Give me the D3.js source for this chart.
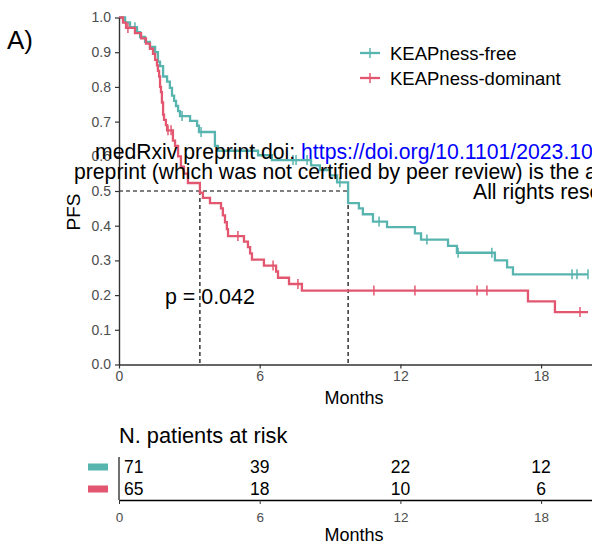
<!DOCTYPE html>
<html><head><meta charset="utf-8">
<script src="https://cdn.jsdelivr.net/npm/d3@7"></script>
<style>body{margin:0;background:#fff;overflow:hidden}svg{display:block;font-family:"Liberation Sans",Arial,sans-serif}</style>
</head><body><svg id="c" width="592" height="550"></svg>
<script>
const groups = ["KEAPness-free", "KEAPness-dominant"];
const colors = ["#58B4AE", "#E2576F"];
const freeTimes = [0.26,0.47,0.77,0.9,1.11,1.32,1.54,1.66,1.75,1.88,2.05,2.17,2.26,2.35,2.43,2.52,2.6,3.03,3.33,3.41,4.09,4.22,5.93,6.52,8.19,8.57,9.0,9.3,9.77,10.23,10.4,10.83,11.43,12.62,12.88,14.03,14.41,16.03,16.55,16.8];
const freeSurv  = [0.986,0.972,0.958,0.944,0.93,0.915,0.9,0.873,0.86,0.83,0.815,0.797,0.775,0.76,0.745,0.73,0.716,0.702,0.688,0.67,0.63,0.616,0.603,0.589,0.574,0.56,0.545,0.525,0.465,0.45,0.433,0.412,0.396,0.378,0.36,0.342,0.322,0.30,0.28,0.26];
const freeCensor = [0.68,2.69,3.5,7.42,7.55,8.02,9.42,11.09,13.13,14.46,15.9,19.32,19.53,20.0];
const domTimes = [0.17,0.3,0.68,0.94,1.15,1.32,1.45,1.54,1.62,1.66,1.71,1.75,1.79,1.83,1.88,1.92,2.0,2.05,2.3,2.39,2.52,2.64,2.77,2.94,3.45,3.58,3.88,4.35,4.43,4.52,4.6,4.65,5.33,5.5,5.59,5.67,6.18,6.7,6.78,7.25,7.8,17.44,18.59];
const domSurv  = [0.985,0.97,0.955,0.94,0.925,0.91,0.895,0.878,0.862,0.846,0.83,0.8,0.785,0.755,0.72,0.705,0.69,0.675,0.645,0.63,0.6,0.57,0.55,0.523,0.495,0.48,0.465,0.45,0.43,0.41,0.39,0.37,0.354,0.338,0.32,0.302,0.285,0.268,0.25,0.232,0.213,0.182,0.151];
const domCensor = [0.38,2.09,2.22,5.07,6.57,7.63,10.87,12.62,15.27,15.69,19.66];
const endTime = 20;
const xTicks = [0, 6, 12, 18];
const yTicks = [0,0.1,0.2,0.3,0.4,0.5,0.6,0.7,0.8,0.9,1.0];
const riskTimes = [0, 6, 12, 18];
const riskFree = [71, 39, 22, 12];
const riskDom = [65, 18, 10, 6];
const pText = "p = 0.042";
const wm1a = "medRxiv preprint doi: ";
const wm1b = "https://doi.org/10.1101/2023.10.2";
const wm2 = "preprint (which was not certified by peer review) is the author/funder";
const wm3 = "All rights reserved.";

const svg = d3.select("#c");
const x = d3.scaleLinear().domain([0, 20.2]).range([119, 119 + 20.2 * 23.45]);
const y = d3.scaleLinear().domain([0, 1]).range([364.5, 17.5]);
const axisCol = "#333", tickCol = "#4d4d4d";

const series = [
  {times: freeTimes, surv: freeSurv, censor: freeCensor},
  {times: domTimes, surv: domSurv, censor: domCensor}
];
function survAt(s, t) { let v = 1; s.times.forEach((tt, i) => { if (tt <= t) v = s.surv[i]; }); return v; }
function median(s) { for (let i = 0; i < s.times.length; i++) if (s.surv[i] <= 0.5) return s.times[i]; return null; }

// dashed median lines
const meds = series.map(median);
const dash = svg.append("g").attr("stroke", "#000").attr("stroke-width", 1.2).attr("stroke-dasharray", "4,3").attr("fill", "none");
dash.append("line").attr("x1", x(0)).attr("x2", x(d3.max(meds))).attr("y1", y(0.5)).attr("y2", y(0.5));
meds.forEach(m => dash.append("line").attr("x1", x(m)).attr("x2", x(m)).attr("y1", y(0.5)).attr("y2", y(0)));

// curves
const line = d3.line().x(d => x(d[0])).y(d => y(d[1])).curve(d3.curveStepAfter);
series.forEach((s, i) => {
  const pts = [[0, 1]].concat(s.times.map((t, j) => [t, s.surv[j]]));
  pts.push([endTime, s.surv[s.surv.length - 1]]);
  svg.append("path").attr("d", line(pts)).attr("fill", "none").attr("stroke", colors[i]).attr("stroke-width", 2.3);
  svg.append("g").selectAll("line").data(s.censor).join("line")
    .attr("x1", d => x(d)).attr("x2", d => x(d))
    .attr("y1", d => y(survAt(s, d)) - 5).attr("y2", d => y(survAt(s, d)) + 5)
    .attr("stroke", colors[i]).attr("stroke-width", 1.5);
});

// axes
const yAx = svg.append("g").attr("transform", `translate(${x(0)},0)`)
  .call(d3.axisLeft(y).tickValues(yTicks).tickFormat(d3.format(".1f")).tickSize(4).tickSizeOuter(0).tickPadding(4));
const xAx = svg.append("g").attr("transform", `translate(0,${y(0)})`)
  .call(d3.axisBottom(x).tickValues(xTicks).tickSize(4).tickSizeOuter(0).tickPadding(3));
[yAx, xAx].forEach(a => {
  a.select(".domain").attr("stroke", axisCol).attr("stroke-width", 1.4);
  a.selectAll(".tick line").attr("stroke", axisCol).attr("stroke-width", 1.2);
  a.selectAll(".tick text").attr("fill", tickCol).style("font-size", "14px").style("font-family", "Liberation Sans, Arial, sans-serif");
});
svg.append("text").attr("x", 354).attr("y", 404).attr("text-anchor", "middle").style("font-size", "18px").text("Months");
svg.append("text").attr("transform", "translate(80,212) rotate(-90)").attr("text-anchor", "middle").style("font-size", "19px").text("PFS");
svg.append("text").attr("x", 7).attr("y", 49).style("font-size", "26px").text("A)");

// legend
groups.forEach((g, i) => {
  const ly = 53 + i * 25;
  svg.append("line").attr("x1", 360).attr("x2", 380).attr("y1", ly).attr("y2", ly).attr("stroke", colors[i]).attr("stroke-width", 2.3);
  svg.append("line").attr("x1", 370).attr("x2", 370).attr("y1", ly - 5).attr("y2", ly + 5).attr("stroke", colors[i]).attr("stroke-width", 1.5);
  svg.append("text").attr("x", 390).attr("y", ly + 6.5).style("font-size", "18.5px").text(g);
});

// p value
svg.append("text").attr("x", 165).attr("y", 304).style("font-size", "21.4px").text(pText);

// watermark
const t1 = svg.append("text").attr("x", 95).attr("y", 159).style("font-size", "21.2px");
t1.append("tspan").attr("fill", "#000").text(wm1a);
t1.append("tspan").attr("fill", "#0000ff").text(wm1b);
svg.append("text").attr("x", 74).attr("y", 179).style("font-size", "21.2px").text(wm2);
svg.append("text").attr("x", 473).attr("y", 199).style("font-size", "21.2px").text(wm3);

// risk table
svg.append("text").attr("x", 119).attr("y", 443).style("font-size", "21.8px").text("N. patients at risk");
const rows = [riskFree, riskDom];
rows.forEach((r, i) => {
  const ry = 467 + i * 22;
  svg.append("rect").attr("x", 88).attr("y", ry - 3.5).attr("width", 20).attr("height", 7).attr("fill", colors[i]);
  svg.append("g").selectAll("text").data(r).join("text")
    .attr("x", (d, j) => riskTimes[j] === 0 ? x(0) + 5 : x(riskTimes[j]))
    .attr("y", ry + 6)
    .attr("text-anchor", (d, j) => riskTimes[j] === 0 ? "start" : "middle")
    .style("font-size", "17.5px").text(d => d);
});
const rAx = svg.append("g").attr("transform", "translate(0,500)")
  .call(d3.axisBottom(x).tickValues(riskTimes).tickSize(4).tickSizeOuter(0).tickPadding(8));
rAx.select(".domain").attr("stroke", "#000").attr("stroke-width", 1.4);
rAx.selectAll(".tick line").attr("stroke", axisCol);
rAx.selectAll(".tick text").attr("fill", tickCol).style("font-size", "13.5px").style("font-family", "Liberation Sans, Arial, sans-serif");
svg.append("line").attr("x1", x(0)).attr("x2", x(0)).attr("y1", 457).attr("y2", 500).attr("stroke", axisCol).attr("stroke-width", 1.4);
svg.append("text").attr("x", 354).attr("y", 541).attr("text-anchor", "middle").style("font-size", "18px").text("Months");
</script></body></html>
